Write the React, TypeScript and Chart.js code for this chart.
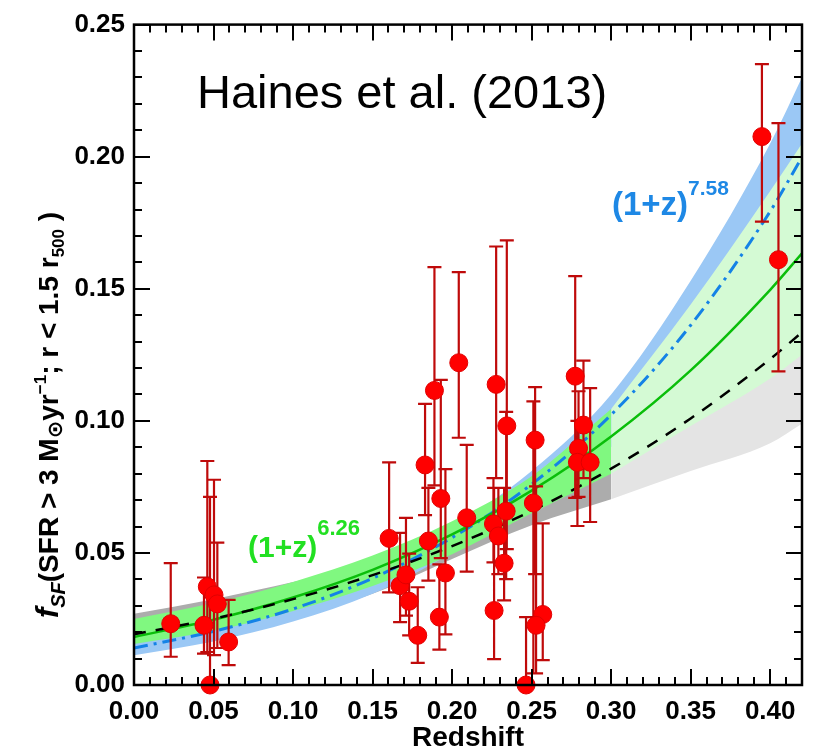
import { useEffect, useRef } from "react";
import { Chart, registerables } from "chart.js";

Chart.register(...registerables);

// ---------- data ----------
const pointZ = [0.0231, 0.044, 0.0461, 0.0478, 0.0503, 0.0524, 0.0595, 0.1604, 0.1673, 0.171, 0.173, 0.1784, 0.183, 0.1851, 0.1889, 0.1929, 0.192, 0.1958, 0.2042, 0.2092, 0.2277, 0.226, 0.2291, 0.2264, 0.2344, 0.234, 0.2327, 0.2465, 0.2522, 0.2511, 0.257, 0.2528, 0.2774, 0.2826, 0.2795, 0.2788, 0.2868, 0.3948, 0.4052];
const pointF = [0.0232, 0.0226, 0.0372, 0.0, 0.0341, 0.0307, 0.0163, 0.0555, 0.0376, 0.0417, 0.0317, 0.0188, 0.0833, 0.0545, 0.1115, 0.0706, 0.0257, 0.0424, 0.122, 0.0633, 0.1138, 0.061, 0.0564, 0.0282, 0.0981, 0.0658, 0.0461, 0.0, 0.0927, 0.0689, 0.0267, 0.0226, 0.1169, 0.0984, 0.0896, 0.0843, 0.0843, 0.2076, 0.161];
const errHigh = [0.0461, 0.0407, 0.0848, 0.0712, 0.0777, 0.0539, 0.0322, 0.0843, 0.0576, 0.0633, 0.0497, 0.037, 0.1064, 0.0746, 0.1582, 0.1155, 0.0457, 0.0817, 0.1563, 0.0909, 0.166, 0.0783, 0.0746, 0.0746, 0.1683, 0.1034, 0.0746, 0.0257, 0.1128, 0.1074, 0.0612, 0.0752, 0.1548, 0.1228, 0.1112, 0.1, 0.1124, 0.235, 0.2127];
const errLow = [0.0107, 0.0119, 0.0125, 0.0, 0.0113, 0.014, 0.0075, 0.0351, 0.0238, 0.0263, 0.0188, 0.0084, 0.0643, 0.0395, 0.0756, 0.048, 0.0134, 0.0192, 0.0936, 0.0429, 0.0783, 0.0464, 0.042, 0.0098, 0.0514, 0.0401, 0.032, 0.0, 0.042, 0.0044, 0.0094, 0.0044, 0.0708, 0.0783, 0.0712, 0.0602, 0.0617, 0.1754, 0.1187];

const curveZ = [0, 0.05, 0.1, 0.15, 0.2, 0.25, 0.3, 0.35, 0.4, 0.42];
const fitGreen = [0.0182, 0.0247, 0.0331, 0.0436, 0.057, 0.0736, 0.0941, 0.1191, 0.1496, 0.1634];
const fitBlue = [0.014, 0.0203, 0.0288, 0.0404, 0.0558, 0.076, 0.1023, 0.1362, 0.1793, 0.1998];
const fitBlack = [0.0192, 0.0251, 0.0325, 0.0416, 0.0526, 0.0659, 0.0819, 0.1009, 0.1234, 0.1335];
const greenHi = [0.025, 0.031, 0.039, 0.049, 0.062, 0.079, 0.1045, 0.144, 0.187, 0.205];
const greenLo = [0.0155, 0.0205, 0.028, 0.0375, 0.0495, 0.065, 0.08, 0.098, 0.116, 0.125];
const blueHi = [0.017, 0.0235, 0.0322, 0.0445, 0.06, 0.081, 0.11, 0.153, 0.205, 0.23];
const blueLo = [0.0113, 0.0165, 0.024, 0.0345, 0.05, 0.068, 0.09, 0.115, 0.145, 0.158];
const grayHi = [0.027, 0.0325, 0.039, 0.046, 0.056, 0.072, 0.093, 0.118, 0.15, 0.165];
const grayLo = [0.014, 0.019, 0.0255, 0.0345, 0.0477, 0.0605, 0.0703, 0.081, 0.0915, 0.0989];
const splitIndex = 6; // z = 0.30, end of the darker shaded range

const xTickLabels = ["0.00", "0.05", "0.10", "0.15", "0.20", "0.25", "0.30", "0.35", "0.40"];
const yTickLabels = ["0.00", "0.05", "0.10", "0.15", "0.20", "0.25"];

const FONT = '"Liberation Sans", Arial, Helvetica, sans-serif';

const pts = (zs: number[], vs: number[]) => zs.map((z, i) => ({ x: z, y: vs[i] }));
const dark = (vs: number[]) => pts(curveZ.slice(0, splitIndex + 1), vs.slice(0, splitIndex + 1));
const light = (vs: number[]) => pts(curveZ.slice(splitIndex), vs.slice(splitIndex));

function drawRich(ctx: CanvasRenderingContext2D, pieces: any[], x: number, y: number) {
  let cx = x;
  for (const p of pieces) {
    ctx.font = p.font;
    ctx.fillText(p.t, cx, y + (p.dy || 0));
    cx += ctx.measureText(p.t).width;
  }
}
function richWidth(ctx: CanvasRenderingContext2D, pieces: any[]) {
  let w = 0;
  for (const p of pieces) {
    ctx.font = p.font;
    w += ctx.measureText(p.t).width;
  }
  return w;
}

const framePlugin = {
  id: "frameTicks",
  afterDatasetsDraw(chart: any) {
    const { ctx, chartArea } = chart;
    const { left, right, top, bottom } = chartArea;
    const xs = chart.scales.x;
    const ys = chart.scales.y;
    ctx.save();
    ctx.strokeStyle = "#000";
    ctx.lineWidth = 2;
    ctx.beginPath();
    for (let i = 0; i <= 42; i++) {
      const px = Math.round(xs.getPixelForValue(i / 100));
      const len = i % 5 === 0 ? 16 : 8;
      ctx.moveTo(px, bottom);
      ctx.lineTo(px, bottom - len);
      ctx.moveTo(px, top);
      ctx.lineTo(px, top + len);
    }
    for (let j = 0; j <= 25; j++) {
      const py = Math.round(ys.getPixelForValue(j / 100));
      const len = j % 5 === 0 ? 16 : 8;
      ctx.moveTo(left, py);
      ctx.lineTo(left + len, py);
      ctx.moveTo(right, py);
      ctx.lineTo(right - len, py);
    }
    ctx.stroke();
    ctx.lineWidth = 2.5;
    ctx.strokeRect(left, top, right - left, bottom - top);
    ctx.restore();
  },
  afterDraw(chart: any) {
    const { ctx } = chart;
    ctx.save();
    ctx.fillStyle = "#000";
    ctx.textBaseline = "alphabetic";
    ctx.textAlign = "left";
    // reference label
    ctx.font = `47px ${FONT}`;
    ctx.fillText("Haines et al. (2013)", 197, 108);
    // blue power-law label
    ctx.fillStyle = "#1e88e5";
    drawRich(ctx, [
      { t: "(1+z)", font: `bold 33px ${FONT}` },
      { t: "7.58", font: `bold 21px ${FONT}`, dy: -20 },
    ], 612, 215);
    // green power-law label
    ctx.fillStyle = "#22e022";
    drawRich(ctx, [
      { t: "(1+z)", font: `bold 30px ${FONT}` },
      { t: "6.26", font: `bold 22px ${FONT}`, dy: -22 },
    ], 248, 557);
    // y axis title
    ctx.fillStyle = "#000";
    const pieces = [
      { t: "f", font: `italic bold 31px ${FONT}` },
      { t: "SF", font: `italic bold 20px ${FONT}`, dy: 7 },
      { t: "(SFR > 3 M", font: `bold 28px ${FONT}` },
      { t: "\u2299", font: `bold 21px "DejaVu Sans", ${FONT}`, dy: 4 },
      { t: "yr", font: `bold 28px ${FONT}` },
      { t: "\u22121", font: `bold 17px ${FONT}`, dy: -12 },
      { t: "; r < 1.5 r", font: `bold 28px ${FONT}` },
      { t: "500", font: `bold 17px ${FONT}`, dy: 6 },
      { t: " )", font: `bold 28px ${FONT}` },
    ];
    const w = richWidth(ctx, pieces);
    ctx.translate(58, 415);
    ctx.rotate(-Math.PI / 2);
    drawRich(ctx, pieces, -w / 2, 0);
    ctx.restore();
  },
};

const errorBarPlugin = {
  id: "errorBars",
  beforeDatasetDraw(chart: any, args: any) {
    if (args.index !== 0) return;
    const { ctx } = chart;
    const xs = chart.scales.x;
    const ys = chart.scales.y;
    ctx.save();
    ctx.strokeStyle = "#bf0a0a";
    ctx.lineWidth = 2.2;
    ctx.beginPath();
    for (let i = 0; i < pointZ.length; i++) {
      const px = xs.getPixelForValue(pointZ[i]);
      const hi = ys.getPixelForValue(errHigh[i]);
      const lo = ys.getPixelForValue(errLow[i]);
      ctx.moveTo(px, hi);
      ctx.lineTo(px, lo);
      ctx.moveTo(px - 7, hi);
      ctx.lineTo(px + 7, hi);
      if (errLow[i] > 0) {
        ctx.moveTo(px - 7, lo);
        ctx.lineTo(px + 7, lo);
      }
    }
    ctx.stroke();
    ctx.restore();
  },
};

const band = (data: any[], color: string, fillTo: number | false) => ({
  data,
  showLine: true,
  pointRadius: 0,
  borderWidth: 0,
  borderColor: "rgba(0,0,0,0)",
  backgroundColor: color,
  fill: fillTo === false ? false : fillTo,
  cubicInterpolationMode: "monotone",
});

export default function App() {
  const ref = useRef<HTMLCanvasElement>(null);
  useEffect(() => {
    document.body.style.margin = "0";
    const GREEN_D = "rgb(128,248,128)";
    const GREEN_L = "rgb(212,250,212)";
    const BLUE = "rgb(155,200,245)";
    const GRAY_D = "rgb(172,172,172)";
    const GRAY_L = "rgb(228,228,228)";
    const chart = new Chart(ref.current!, {
      type: "scatter",
      data: {
        datasets: [
          {
            data: pts(pointZ, pointF),
            pointRadius: 9,
            pointHoverRadius: 9,
            backgroundColor: "#ff0000",
            borderColor: "#e00000",
            borderWidth: 1,
            clip: false,
          } as any,
          { data: pts(curveZ, fitBlack), showLine: true, pointRadius: 0, borderColor: "#000", borderWidth: 2.5, borderDash: [12, 10], cubicInterpolationMode: "monotone", fill: false } as any,
          { data: pts(curveZ, fitGreen), showLine: true, pointRadius: 0, borderColor: "rgb(10,190,10)", borderWidth: 2.5, cubicInterpolationMode: "monotone", fill: false } as any,
          { data: pts(curveZ, fitBlue), showLine: true, pointRadius: 0, borderColor: "rgb(20,130,230)", borderWidth: 3, borderDash: [14, 6, 3, 6], cubicInterpolationMode: "monotone", fill: false } as any,
          band(dark(greenHi), GREEN_D, 5) as any,
          band(dark(greenLo), GREEN_D, false) as any,
          band(light(greenHi), GREEN_L, 7) as any,
          band(light(greenLo), GREEN_L, false) as any,
          band(pts(curveZ, blueHi), BLUE, 9) as any,
          band(pts(curveZ, blueLo), BLUE, false) as any,
          band(dark(grayHi), GRAY_D, 11) as any,
          band(dark(grayLo), GRAY_D, false) as any,
          band(light(grayHi), GRAY_L, 13) as any,
          band(light(grayLo), GRAY_L, false) as any,
        ],
      },
      options: {
        responsive: false,
        maintainAspectRatio: false,
        animation: false,
        events: [],
        layout: { padding: { top: 20, right: 21, left: 0, bottom: 0 } },
        plugins: {
          legend: { display: false },
          tooltip: { enabled: false },
          filler: { propagate: false },
        },
        scales: {
          x: {
            type: "linear",
            min: 0,
            max: 0.42,
            grid: { display: false, drawTicks: false },
            border: { display: false },
            ticks: {
              stepSize: 0.05,
              includeBounds: false,
              autoSkip: false,
              maxRotation: 0,
              padding: 11,
              color: "#000",
              font: { family: FONT, size: 26, weight: "bold" },
              callback: (v: any) => {
                const i = Math.round(Number(v) / 0.05);
                return xTickLabels[i] ?? "";
              },
            },
            title: {
              display: true,
              text: "Redshift",
              color: "#000",
              font: { family: FONT, size: 28, weight: "bold" },
              padding: { top: 0, bottom: 0 },
            },
            afterFit: (s: any) => {
              s.height = 70;
            },
          } as any,
          y: {
            type: "linear",
            min: 0,
            max: 0.25,
            grid: { display: false, drawTicks: false },
            border: { display: false },
            ticks: {
              stepSize: 0.05,
              includeBounds: false,
              autoSkip: false,
              padding: 9,
              color: "#000",
              font: { family: FONT, size: 26, weight: "bold" },
              callback: (v: any) => {
                const i = Math.round(Number(v) / 0.05);
                return yTickLabels[i] ?? "";
              },
            },
            afterFit: (s: any) => {
              s.width = 134;
            },
          } as any,
        },
      },
      plugins: [framePlugin, errorBarPlugin],
    });
    return () => chart.destroy();
  }, []);
  return <canvas ref={ref} width={823} height={755} style={{ display: "block" }} />;
}
